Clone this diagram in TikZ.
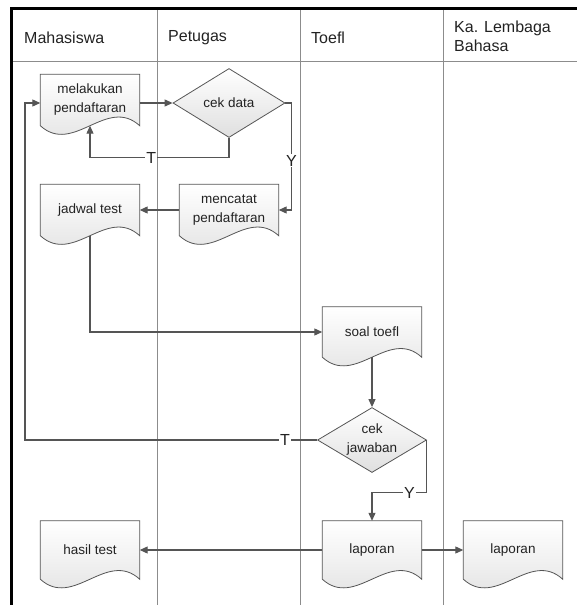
\documentclass[tikz,border=0pt]{standalone}
\usepackage{fontspec}
\setmainfont{Liberation Sans}
\usetikzlibrary{shapes.geometric,arrows.meta,backgrounds}

\definecolor{linegray}{HTML}{555555}
\definecolor{lanegray}{HTML}{8C8C8C}
\definecolor{textgray}{HTML}{222222}

\tikzset{
  doc/.style={minimum width=99pt, minimum height=#1, inner sep=0pt, align=center,
    text=textgray, font=\fontsize{13.5}{19}\selectfont},
  doc/.default=51pt,
  decision/.style={diamond, draw=linegray, line width=.8pt, top color=white,
    bottom color=gray!25, minimum width=112pt, minimum height=69pt, aspect=1.7,
    inner sep=0pt, align=center, text=textgray, font=\fontsize{13.5}{19}\selectfont},
  flow/.style={draw=linegray, line width=1.1pt, -{Triangle[length=8pt,width=7pt]}},
  branch/.style={fill=white, inner sep=1pt, text=textgray, font=\fontsize{16}{16}\selectfont},
  lanehead/.style={anchor=west, align=left, inner sep=0pt, text=textgray,
    font=\fontsize{16}{19}\selectfont},
  lane/.style={draw=lanegray, line width=.8pt},
  docline/.style={draw=linegray, line width=.8pt, top color=white, bottom color=gray!25}
}

% outline of a document node
\newcommand{\docshape}[1]{%
  \path[docline] (#1.north west) -- (#1.north east) -- (#1.south east)
    .. controls +(-33,-30) and +(33,30) .. (#1.south west) -- cycle;}

\begin{document}
\begin{tikzpicture}[x=1pt,y=-1pt]
\useasboundingbox (0,0) rectangle (577,605);
% Lane headers
\node[lanehead] (hMhs) at (24,38) {Mahasiswa};
\node[lanehead] (hPtg) at (168,38) {Petugas};
\node[lanehead] (hToefl) at (311,38) {Toefl};
\node[lanehead] (hKa) at (454,36) {Ka. Lembaga\\Bahasa};
% Documents and decisions
\node[doc] (daftar) at (90,100) {melakukan\\pendaftaran};
\node[decision] (cekdata) at (229,103) {cek data};
\node[doc] (catat) at (229,210) {mencatat\\pendaftaran};
\node[doc] (jadwal) at (90,210) {jadwal test};
\node[doc=50pt] (soal) at (372,332) {soal toefl};
\node[decision, minimum width=109pt, minimum height=65pt] (cekjwb) at (372,440) {cek\\jawaban};
\node[doc=58pt] (hasil) at (90,550) {hasil test};
\node[doc=58pt] (lapToefl) at (372,550) {laporan};
\node[doc=58pt] (lapKa) at (513,550) {laporan};
\coordinate (loopL) at (25,103);
% Lanes and document outlines
\begin{scope}[on background layer]
\draw[lane] (12,61) -- (577,61);
\foreach \lx in {157,300,443}
  \draw[lane] (\lx,8) -- (\lx,605);
\foreach \d in {daftar,catat,jadwal,soal,hasil,lapToefl,lapKa}
  \docshape{\d};
\end{scope}
% Flow
\draw[flow] (daftar.east |- cekdata.west) -- (cekdata.west);
\draw[flow] (cekdata.south) -- ++(0,20) -| node[branch, pos=.28] {T} (daftar.south);
\draw[flow] (cekdata.east) -- ++(6,0) |- node[branch, pos=.27] {Y} (catat.east);
\draw[flow] (catat.west) -- (jadwal.east);
\draw[flow] (jadwal.south) |- (soal.west);
\draw[flow] (soal.south) -- (cekjwb.north);
\draw[flow] (cekjwb.west) -| node[branch, pos=.055] {T} (loopL) -- (daftar.west |- loopL);
\draw[flow] (cekjwb.east) |- node[branch, pos=.66] {Y} ([yshift=28pt]lapToefl.north)
  -- (lapToefl.north);
\draw[flow] (lapToefl.west) -- (hasil.east);
\draw[flow] (lapToefl.east) -- (lapKa.west);
% Frame
\draw[line width=3pt] (577,8) -- (11,8) -- (11,605);
\end{tikzpicture}
\end{document}
